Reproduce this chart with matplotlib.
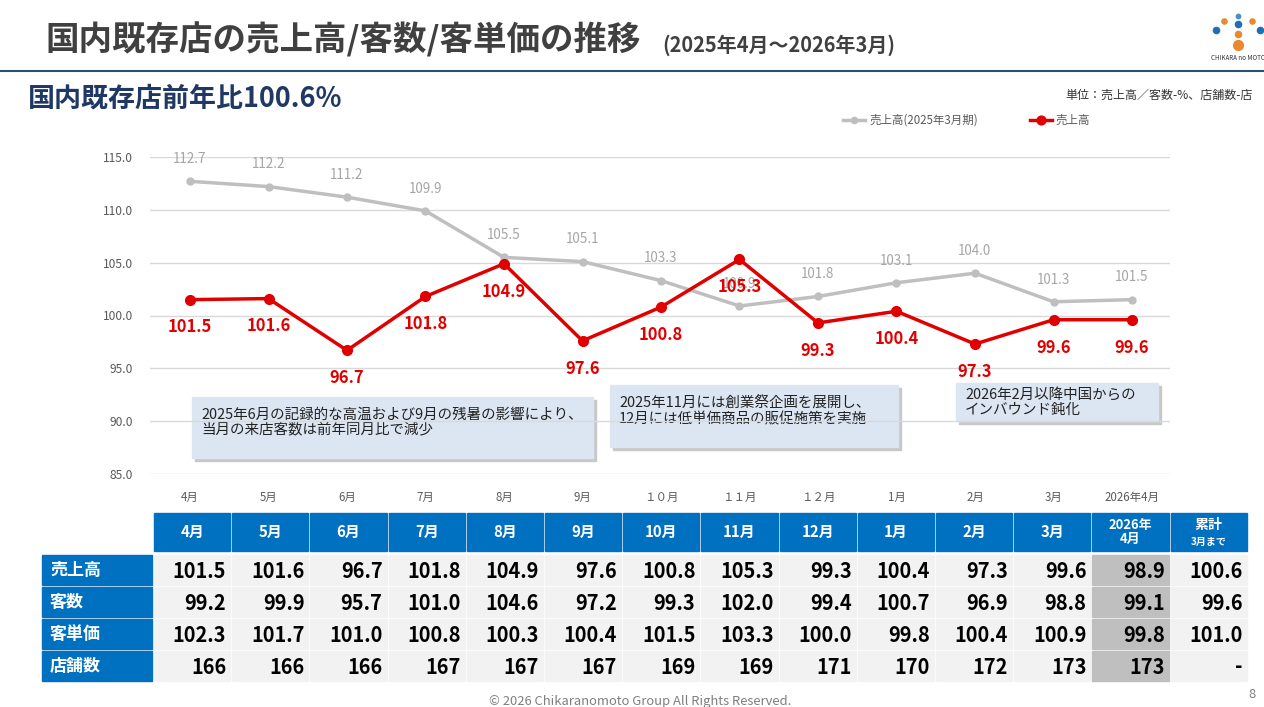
import matplotlib
matplotlib.use("Agg")
import matplotlib.pyplot as plt
from matplotlib.patches import Rectangle

plt.rcParams['font.family'] = ['Noto Sans CJK JP', 'DejaVu Sans']

months = ['4月', '5月', '6月', '7月', '8月', '9月', '１０月', '１１月', '１２月', '1月', '2月', '3月', '2026年4月']
prev_sales = [112.7, 112.2, 111.2, 109.9, 105.5, 105.1, 103.3, 100.9, 101.8, 103.1, 104.0, 101.3, 101.5]
sales = [101.5, 101.6, 96.7, 101.8, 104.9, 97.6, 100.8, 105.3, 99.3, 100.4, 97.3, 99.6, 99.6]

tbl_cols = ['4月', '5月', '6月', '7月', '8月', '9月', '10月', '11月', '12月', '1月', '2月', '3月', '2026年\n4月', '累計']
row_names = ['売上高', '客数', '客単価', '店舗数']
tbl_sales = ['101.5', '101.6', '96.7', '101.8', '104.9', '97.6', '100.8', '105.3', '99.3', '100.4', '97.3', '99.6', '98.9', '100.6']
tbl_cust = ['99.2', '99.9', '95.7', '101.0', '104.6', '97.2', '99.3', '102.0', '99.4', '100.7', '96.9', '98.8', '99.1', '99.6']
tbl_price = ['102.3', '101.7', '101.0', '100.8', '100.3', '100.4', '101.5', '103.3', '100.0', '99.8', '100.4', '100.9', '99.8', '101.0']
tbl_stores = ['166', '166', '166', '167', '167', '167', '169', '169', '171', '170', '172', '173', '173', '-']
tbl_rows = [tbl_sales, tbl_cust, tbl_price, tbl_stores]

W, H = 1264, 707
fig = plt.figure(figsize=(W/100, H/100), dpi=100)
bg = fig.add_axes([0, 0, 1, 1])
bg.set_xlim(0, W); bg.set_ylim(H, 0); bg.axis('off')

def pt(px): return px * 0.72

NAVY = '#1f3864'
BLUE = '#0070c0'
# header
bg.text(45, 40, '国内既存店の売上高/客数/客単価の推移', fontsize=pt(33.5), fontweight='bold', color='#404040', va='center')
bg.text(662, 45, '(2025年4月～2026年3月)', fontsize=pt(20), fontweight='bold', color='#404040', va='center')
bg.plot([0, W], [71, 71], color='#2f4f6f', lw=1.5)
bg.text(28, 99, '国内既存店前年比100.6%', fontsize=pt(27), fontweight='bold', color=NAVY, va='center')
bg.text(1253, 95, '単位：売上高／客数-%、店舗数-店', fontsize=pt(12), color='#333333', va='center', ha='right')
# logo
for (x, y, c, s) in [(1238, 16, '#4a90c8', 10), (1224, 21, '#e8892f', 14), (1252, 21, '#e8892f', 14),
                     (1238, 24, '#1f6fb5', 20), (1216, 30, '#1f6fb5', 20), (1260, 30, '#1f6fb5', 20),
                     (1238, 34, '#e8892f', 20), (1238, 45, '#e8892f', 50)]:
    bg.scatter([x], [y], s=s, color=c, zorder=3)
bg.text(1238, 58, 'CHIKARA no MOTO', fontsize=4.5, color='#333333', ha='center', va='center')

# legend
bg.plot([843, 865], [120, 120], color='#bfbfbf', lw=2.5); bg.scatter([854], [120], s=20, color='#bfbfbf', zorder=3)
bg.text(869, 120, '売上高(2025年3月期)', fontsize=pt(11.5), color='#595959', va='center')
bg.plot([1030, 1052], [120, 120], color='#e00000', lw=2.5); bg.scatter([1041], [120], s=40, color='#e00000', zorder=3)
bg.text(1056, 120, '売上高', fontsize=pt(11.5), color='#595959', va='center')

# chart
x0 = 190; dx = 78.5
left, right = 150, 1170
ax = fig.add_axes([left/W, 1-474/H, (right-left)/W, (474-157)/H])
ax.patch.set_alpha(0)
xs = list(range(len(months)))
ax.set_xlim((left-x0)/dx, (right-x0)/dx)
ax.set_ylim(85, 115)
ax.set_yticks([85, 90, 95, 100, 105, 110, 115])
ax.set_yticklabels([f'{v:.1f}' for v in [85, 90, 95, 100, 105, 110, 115]], fontsize=pt(12), color='#595959')
ax.set_xticks(xs); ax.set_xticklabels(months, fontsize=pt(11.5), color='#595959')
ax.grid(axis='y', color='#d9d9d9', lw=1)
ax.tick_params(length=0, pad=12)
for s in ax.spines.values(): s.set_visible(False)
ax.plot(xs, prev_sales, color='#bfbfbf', lw=2.5, marker='o', ms=5, zorder=3)
ax.plot(xs, sales, color='#e00000', lw=2.5, marker='o', ms=7, zorder=4)
for x, v in zip(xs, prev_sales):
    ax.annotate(f'{v:.1f}', (x, v), xytext=(0, 16), textcoords='offset points', ha='center', va='center', fontsize=pt(13.5), color='#a6a6a6')
for x, v in zip(xs, sales):
    ax.annotate(f'{v:.1f}', (x, v), xytext=(0, -20), textcoords='offset points', ha='center', va='center', fontsize=pt(16.5), color='#e00000', fontweight='bold', zorder=5)

# annotation boxes
boxes = [(192, 397, 401, 61, '2025年6月の記録的な高温および9月の残暑の影響により、\n当月の来店客数は前年同月比で減少'),
         (610, 385, 288, 62, '2025年11月には創業祭企画を展開し、\n12月には低単価商品の販促施策を実施'),
         (956, 383, 202, 38, '2026年2月以降中国からの\nインバウンド鈍化')]
for (x, y, w, h, t) in boxes:
    bg.add_patch(Rectangle((x+3, y+3), w, h, color='#c8c8c8', zorder=1))
    bg.add_patch(Rectangle((x, y), w, h, color='#dce6f2', zorder=2))
    bg.text(x+9, y+h/2 if h < 50 else y+26, t, fontsize=pt(14.5), color='#222222', va='center', zorder=3, linespacing=1.15)

# table
cx0, cw = 153, 78.2
hy0, hy1 = 513, 551
row_y = [(555, 585), (587, 617), (619, 649), (651, 681)]
for i, c in enumerate(tbl_cols):
    x = cx0 + i*cw
    bg.add_patch(Rectangle((x+1, hy0), cw-2, hy1-hy0, color=BLUE))
    if i == 13:
        bg.text(x+cw/2, 525, c, fontsize=pt(14), fontweight='bold', color='white', ha='center', va='center')
        bg.text(x+cw/2, 542, '3月まで', fontsize=pt(10), fontweight='bold', color='white', ha='center', va='center')
    else:
        bg.text(x+cw/2, (hy0+hy1)/2, c, fontsize=pt(15 if i < 12 else 13), fontweight='bold', color='white', ha='center', va='center', linespacing=1.0)
for r, (name, vals) in enumerate(zip(row_names, tbl_rows)):
    y0, y1 = row_y[r]
    bg.add_patch(Rectangle((42, y0), 110, y1-y0, color=BLUE))
    bg.text(50, (y0+y1)/2, name, fontsize=pt(17), fontweight='bold', color='white', va='center')
    for i, v in enumerate(vals):
        x = cx0 + i*cw
        col = '#bfbfbf' if i == 12 else '#f2f2f2'
        bg.add_patch(Rectangle((x+1, y0), cw-2, y1-y0, color=col))
        bg.text(x+cw-5, (y0+y1)/2+1, v, fontsize=pt(20), fontweight='bold', color='black', ha='right', va='center')

bg.text(640, 702, '© 2026 Chikaranomoto Group All Rights Reserved.', fontsize=pt(13), color='#7f7f7f', ha='center', va='center')
bg.text(1252, 695, '8', fontsize=pt(13), color='#7f7f7f', ha='center', va='center')

fig.savefig('out.png', dpi=100)
